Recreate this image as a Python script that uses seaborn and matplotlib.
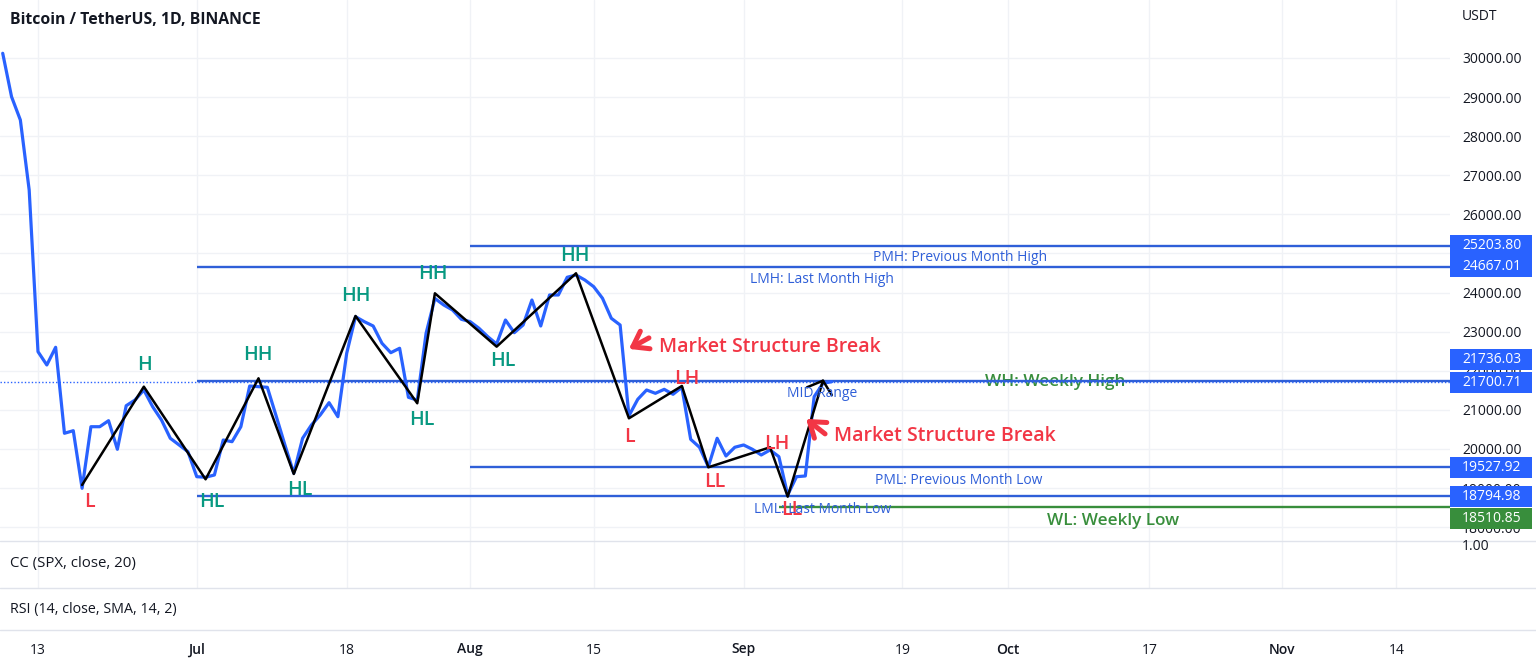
import numpy as np
import pandas as pd
import matplotlib
matplotlib.use("Agg")
import matplotlib.pyplot as plt
import matplotlib.dates as mdates
from matplotlib.patches import Rectangle
from matplotlib.lines import Line2D
import seaborn as sns

# ---------------- data ----------------
start_date = "2022-06-09"
close_prices = [
    30120, 29010, 28414, 26624, 22489, 22149, 22601, 20402, 20468, 18995,
    20570, 20570, 20724, 19992, 21107, 21253, 21509, 21082, 20742, 20274,
    20103, 19931, 19292, 19277, 19335, 20230, 20187, 20570, 21611, 21594,
    21578, 20845, 20100, 19380, 20274, 20614, 20870, 21185, 20826, 22448,
    23384, 23256, 23146, 22703, 22463, 22576, 21322, 21250, 22959, 23850,
    23683, 23555, 23317, 23256, 23087, 22872, 22686, 23299, 22975, 23171,
    23810, 23146, 23939, 23939, 24392, 24450, 24322, 24152, 23855, 23343,
    23171, 20850, 21271, 21509, 21424, 21526, 21399, 21578, 20248, 20044,
    19548, 20274, 19821, 20044, 20103, 19992, 19847, 19975, 19804, 18824,
    19292, 19310, 21338, 21680, 21721,
]

pivot_dates = ["2022-06-18", "2022-06-25", "2022-07-02", "2022-07-08", "2022-07-12",
               "2022-07-19", "2022-07-26", "2022-07-28", "2022-08-04", "2022-08-13",
               "2022-08-19", "2022-08-25", "2022-08-28", "2022-09-04", "2022-09-06"]
pivot_prices = [19080, 21594, 19225, 21808, 19361, 23402, 21169, 23982, 22617, 24494,
                20785, 21612, 19532, 20044, 18780]
pivot_labels = ["L", "H", "HL", "HH", "HL", "HH", "HL", "HH", "HL", "HH",
                "L", "LH", "LL", "LH", "LL"]

zigzag_tail_dates = ["2022-09-10", "2022-09-11"]
zigzag_tail_prices = [21747, 21381]
hook_dates = ["2022-09-08 04:30", "2022-09-10 00:00"]
hook_prices = [21578, 21747]

level_names = ["PMH: Previous Month High", "LMH: Last Month High", "MID Range",
               "PML: Previous Month Low", "LML: Last Month Low", "WL: Weekly Low"]
level_values = [25203.80, 24667.01, 21736.03, 19527.92, 18794.98, 18510.85]
level_starts = ["2022-08-01", "2022-07-01", "2022-07-01", "2022-08-01", "2022-07-01", "2022-09-05"]
weekly_high_name = "WH: Weekly High"
weekly_high_value = 21700.71
last_price = 21700.71

msb_text = "Market Structure Break"
msb_dates = ["2022-08-19 00:00", "2022-09-08 02:00"]
msb_prices = [22560, 20770]

price_ticks = list(range(18000, 31000, 1000))
x_tick_dates = ["2022-06-13", "2022-07-01", "2022-07-18", "2022-08-01", "2022-08-15",
                "2022-09-01", "2022-09-19", "2022-10-01", "2022-10-17", "2022-11-01",
                "2022-11-14"]
x_tick_labels = ["13", "Jul", "18", "Aug", "15", "Sep", "19", "Oct", "17", "Nov", "14"]

title = "Bitcoin / TetherUS, 1D, BINANCE"
cc_title = "CC (SPX, close, 20)"
rsi_title = "RSI (14, close, SMA, 14, 2)"

# ---------------- style ----------------
sns.set_theme(style="white")
plt.rcParams["font.family"] = ["Open Sans", "DejaVu Sans"]

BLUE = "#2962ff"
LEVEL_BLUE = "#2f5fd8"
TEAL = "#089981"
RED = "#f23645"
GREEN = "#388e3c"
TXT = "#131722"
GRID = "#f0f2f6"
SEP = "#e0e3eb"

W, H = 1536, 665
fig = plt.figure(figsize=(W / 100, H / 100), dpi=100)
fig.patch.set_facecolor("white")


def fx(px):
    return px / W


def fy(py):
    return 1 - py / H


ax = fig.add_axes([0, fy(541), fx(1450), fy(0) - fy(541)])
ax_cc = fig.add_axes([0, fy(588), fx(1450), fy(541) - fy(588)])
ax_rsi = fig.add_axes([0, fy(630), fx(1450), fy(588) - fy(630)])

ref = pd.Timestamp("2022-06-13")
x0 = ref - pd.Timedelta(days=4.308)
x1 = ref + pd.Timedelta(days=160.09)
for a in (ax, ax_cc, ax_rsi):
    a.set_xlim(x0, x1)
    for s in a.spines.values():
        s.set_visible(False)
    a.set_facecolor("white")

ax.set_ylim(17647, 31483)

dates = pd.date_range(start_date, periods=len(close_prices), freq="D")
df = pd.DataFrame({"date": dates, "close": close_prices})

tick_dt = pd.to_datetime(x_tick_dates)
# grid
for a in (ax, ax_cc):
    for d in tick_dt:
        a.axvline(d, color=GRID, lw=1, zorder=0)
for p in price_ticks:
    ax.axhline(p, color=GRID, lw=1, zorder=0)

# last price dotted line
ax.axhline(last_price, color=BLUE, lw=1, ls=(0, (1, 1.5)), zorder=2)

# levels
for name, v, st in zip(level_names, level_values, level_starts):
    col = GREEN if name.startswith("WL") else LEVEL_BLUE
    ax.hlines(v, pd.Timestamp(st), x1, color=col, lw=1.7, zorder=2)

# price line
sns.lineplot(data=df, x="date", y="close", ax=ax, color=BLUE, lw=2.3,
             estimator=None, sort=False, zorder=4)

# zigzag
zz = pd.DataFrame({"date": pd.to_datetime(pivot_dates + zigzag_tail_dates),
                   "price": pivot_prices + zigzag_tail_prices})
sns.lineplot(data=zz, x="date", y="price", ax=ax, color="black", lw=1.8,
             estimator=None, sort=False, zorder=5)
hk = pd.DataFrame({"date": pd.to_datetime(hook_dates), "price": hook_prices})
sns.lineplot(data=hk, x="date", y="price", ax=ax, color="black", lw=1.8,
             estimator=None, sort=False, zorder=5)

# pivot labels
label_offsets_px = [(7, 17), (1, -22), (6, 23), (-1, -23), (6, 16), (0, -20), (5, 17),
                    (-2, -19), (6, 14), (-1, -17), (0, 19), (5, -7), (6, 15), (7, -3), (4, 13)]
bear_idx = {0, 10, 11, 12, 13, 14}
for i, (d, p, lab) in enumerate(zip(pivot_dates, pivot_prices, pivot_labels)):
    dx, dy = label_offsets_px[i]
    ax.annotate(lab, xy=(pd.Timestamp(d), p), xytext=(dx * 0.72, -dy * 0.72),
                textcoords="offset points", ha="center", va="center",
                color=RED if i in bear_idx else TEAL, fontsize=14,
                fontweight="semibold", zorder=6)

# level labels
level_label_x = [0.662, 0.567, 0.567, 0.661, 0.567, 0.7676]
level_label_dy = [12, 13, 12, 13, 13, 14]
for name, v, lx, ldy in zip(level_names, level_values, level_label_x, level_label_dy):
    is_w = name.startswith("WL")
    ax.annotate(name, xy=(lx, v), xycoords=("axes fraction", "data"),
                xytext=(0, -ldy * 0.72), textcoords="offset points",
                ha="center", va="center", color=GREEN if is_w else LEVEL_BLUE,
                fontsize=12.3 if is_w else 10,
                fontweight="semibold" if is_w else "normal", zorder=6)
ax.annotate(weekly_high_name, xy=(0.7276, weekly_high_value), xycoords=("axes fraction", "data"),
            ha="center", va="center", color=GREEN, fontsize=12.3, fontweight="semibold", zorder=1)

# market structure break
msb_arrow_tail = [(20, -11), (19, 15)]
msb_text_off = [(30, -2), (28, 17)]
for d, p, (tx, ty), (ox, oy) in zip(msb_dates, msb_prices, msb_arrow_tail, msb_text_off):
    xy = (pd.Timestamp(d), p)
    ax.annotate("", xy=xy, xytext=(tx * 0.72, -ty * 0.72), textcoords="offset points",
                arrowprops=dict(arrowstyle="->,head_length=0.85,head_width=0.6",
                                color=RED, lw=3.6, shrinkA=0, shrinkB=0,
                                joinstyle="round", capstyle="round"), zorder=6)
    ax.annotate(msb_text, xy=xy, xytext=(ox * 0.72, -oy * 0.72), textcoords="offset points",
                ha="left", va="center", color=RED, fontsize=14, fontweight="semibold", zorder=6)

# y axis on the right
ax.yaxis.tick_right()
ax.set_yticks(price_ticks)
ax.set_yticklabels([f"{p:.2f}" for p in price_ticks])
ax.tick_params(axis="y", length=0, pad=8.6, labelsize=10, labelcolor=TXT)
ax.set_xticks([])
ax.set_xlabel("")
ax.set_ylabel("")
for t in ax.get_yticklabels():
    t.set_horizontalalignment("left")

for a in (ax_cc,):
    a.set_xticks([])
    a.set_yticks([])
ax_rsi.set_yticks([])
ax_rsi.set_xticks(tick_dt)
ax_rsi.set_xticklabels(x_tick_labels)
ax_rsi.tick_params(axis="x", length=0, pad=9, labelsize=10, labelcolor=TXT)
for t, lab in zip(ax_rsi.get_xticklabels(), x_tick_labels):
    if lab.isalpha():
        t.set_fontweight("semibold")

# pane separators
for py in (541, 588, 630):
    fig.add_artist(Line2D([0, 1], [fy(py), fy(py)], color=SEP, lw=1))

# texts
fig.text(fx(10), fy(20), title, ha="left", va="center", fontsize=11.3,
         fontweight="bold", color=TXT)
fig.text(fx(10), fy(563), cc_title, ha="left", va="center", fontsize=10.8, color=TXT)
fig.text(fx(10), fy(610), rsi_title, ha="left", va="center", fontsize=10.3, color=TXT)
fig.text(fx(1462), fy(17), "USDT", ha="left", va="center", fontsize=10, color=TXT)
fig.text(fx(1462), fy(546), "1.00", ha="left", va="center", fontsize=10, color=TXT)

# price boxes
fig.canvas.draw()
box_values = [25203.80, 24667.01, 21736.03, 21700.71, 19527.92, 18794.98, 18510.85]
box_shift_px = [0, 0, -22, 0, 0, 0, 11]
box_colors = [BLUE, BLUE, BLUE, BLUE, BLUE, BLUE, GREEN]
for v, sh, c in zip(box_values, box_shift_px, box_colors):
    ypix_from_bottom = ax.transData.transform((mdates.date2num(x1), v))[1]
    ypx = H - ypix_from_bottom + sh
    fig.add_artist(Rectangle((fx(1450), fy(ypx + 10.5)), 82 / W, 21 / H,
                             facecolor=c, edgecolor="none", transform=fig.transFigure,
                             zorder=10))
    fig.text(fx(1462), fy(ypx), f"{v:.2f}", ha="left", va="center", fontsize=10,
             color="white", zorder=11)

fig.savefig("out.png", dpi=100, facecolor="white")
